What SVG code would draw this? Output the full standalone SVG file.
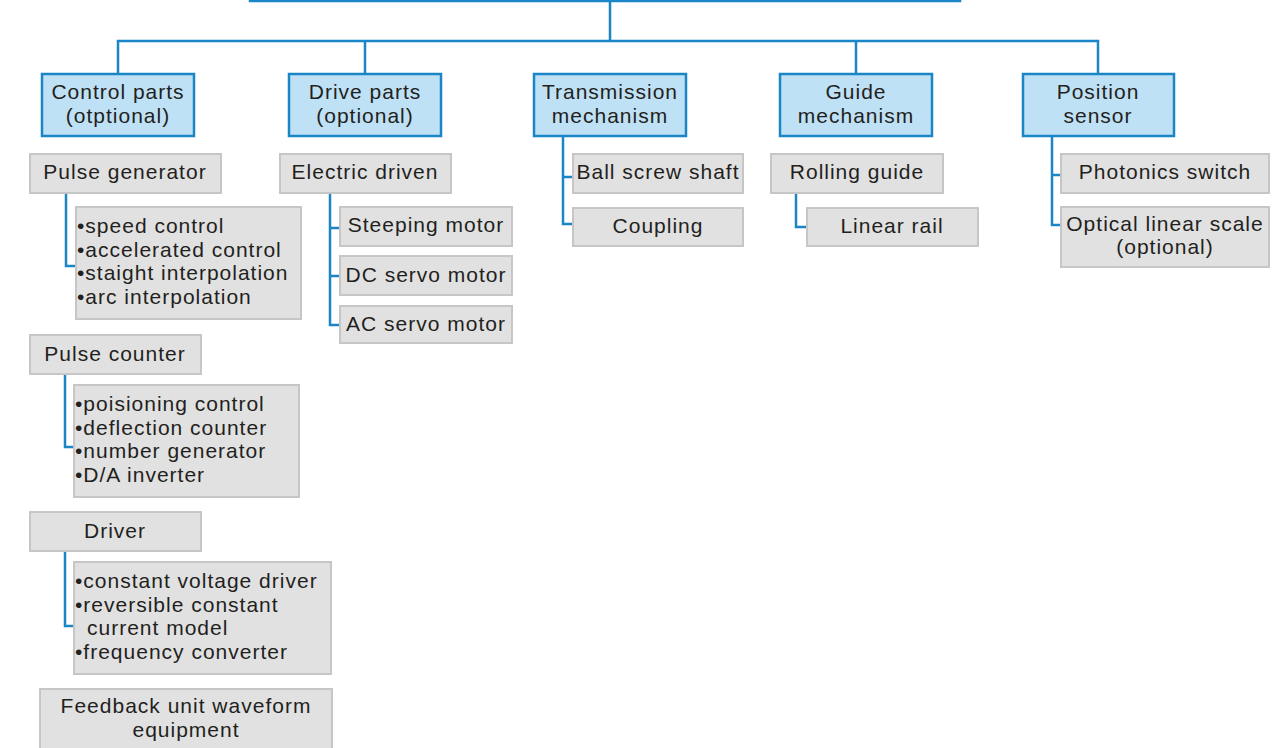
<svg xmlns="http://www.w3.org/2000/svg" width="1287" height="748" viewBox="0 0 1287 748">
<style>
.bg{fill:#ffffff}
.main{fill:#bfe1f6;stroke:#1b86c6;stroke-width:2.5}
.sub{fill:#e1e1e1;stroke:#c6c6c6;stroke-width:2}
.con{fill:none;stroke:#1b86c6;stroke-width:2.5}
text{font-family:"Liberation Sans",Arial,sans-serif;font-size:21px;fill:#231f20;letter-spacing:1px}
.c{text-anchor:middle}
</style>
<rect class="bg" x="0" y="0" width="1287" height="748"/>
<g id="connectors">
<path class="con" d="M610 1V41M118 74V41H1098V74M365 41V74M856 41V74"/>
<path class="con" d="M66 193V266H76"/>
<path class="con" d="M65 374V447H74"/>
<path class="con" d="M65 551V626H74"/>
<path class="con" d="M330 193V325H341M330 228H341M330 276H341"/>
<path class="con" d="M563 136V224H574M563 177H574"/>
<path class="con" d="M796 193V227H807"/>
<path class="con" d="M1052 136V225H1062M1052 175H1062"/>
</g>
<g id="root"><rect class="main" x="250" y="-40" width="710" height="41"/></g>
<g id="control"><rect class="main" x="42" y="74" width="152" height="62"/><text class="c" x="118" y="99">Control parts</text><text class="c" x="118" y="123">(otptional)</text></g>
<g id="drive"><rect class="main" x="289" y="74" width="152" height="62"/><text class="c" x="365" y="99">Drive parts</text><text class="c" x="365" y="123">(optional)</text></g>
<g id="transmission"><rect class="main" x="534" y="74" width="152" height="62"/><text class="c" x="610" y="99">Transmission</text><text class="c" x="610" y="123">mechanism</text></g>
<g id="guide"><rect class="main" x="780" y="74" width="152" height="62"/><text class="c" x="856" y="99">Guide</text><text class="c" x="856" y="123">mechanism</text></g>
<g id="position"><rect class="main" x="1023" y="74" width="151" height="62"/><text class="c" x="1098" y="99">Position</text><text class="c" x="1098" y="123">sensor</text></g>
<g id="pulse-generator"><rect class="sub" x="30" y="154" width="191" height="39"/><text class="c" x="125" y="179">Pulse generator</text></g>
<g id="pg-list"><rect class="sub" x="76" y="207" width="225" height="112"/><text x="77" y="233">•speed control</text><text x="77" y="256.5">•accelerated control</text><text x="77" y="280">•staight interpolation</text><text x="77" y="303.5">•arc interpolation</text></g>
<g id="pulse-counter"><rect class="sub" x="30" y="335" width="171" height="39"/><text class="c" x="115" y="361">Pulse counter</text></g>
<g id="pc-list"><rect class="sub" x="74" y="385" width="225" height="112"/><text x="75" y="411">•poisioning control</text><text x="75" y="434.5">•deflection counter</text><text x="75" y="458">•number generator</text><text x="75" y="481.5">•D/A inverter</text></g>
<g id="driver"><rect class="sub" x="30" y="512" width="171" height="39"/><text class="c" x="115" y="538">Driver</text></g>
<g id="driver-list"><rect class="sub" x="74" y="562" width="257" height="112"/><text x="75" y="588">•constant voltage driver</text><text x="75" y="611.5">•reversible constant</text><text x="87" y="635">current model</text><text x="75" y="658.5">•frequency converter</text></g>
<g id="feedback"><rect class="sub" x="40" y="689" width="292" height="70"/><text class="c" x="186" y="713">Feedback unit waveform</text><text class="c" x="186" y="737">equipment</text></g>
<g id="electric"><rect class="sub" x="280" y="154" width="171" height="39"/><text class="c" x="365" y="179">Electric driven</text></g>
<g id="steeping"><rect class="sub" x="340" y="207" width="172" height="39"/><text class="c" x="426" y="232">Steeping motor</text></g>
<g id="dc"><rect class="sub" x="340" y="256" width="172" height="39"/><text class="c" x="426" y="282">DC servo motor</text></g>
<g id="ac"><rect class="sub" x="340" y="306" width="172" height="37"/><text class="c" x="426" y="331">AC servo motor</text></g>
<g id="ballscrew"><rect class="sub" x="573" y="154" width="170" height="39"/><text class="c" x="658" y="179">Ball screw shaft</text></g>
<g id="coupling"><rect class="sub" x="573" y="208" width="170" height="38"/><text class="c" x="658" y="233">Coupling</text></g>
<g id="rolling"><rect class="sub" x="771" y="154" width="172" height="39"/><text class="c" x="857" y="179">Rolling guide</text></g>
<g id="linear-rail"><rect class="sub" x="807" y="208" width="171" height="38"/><text class="c" x="892" y="233">Linear rail</text></g>
<g id="photonics"><rect class="sub" x="1061" y="154" width="208" height="39"/><text class="c" x="1165" y="179">Photonics switch</text></g>
<g id="optical"><rect class="sub" x="1061" y="207" width="208" height="60"/><text class="c" x="1165" y="231">Optical linear scale</text><text class="c" x="1165" y="254">(optional)</text></g>
</svg>
